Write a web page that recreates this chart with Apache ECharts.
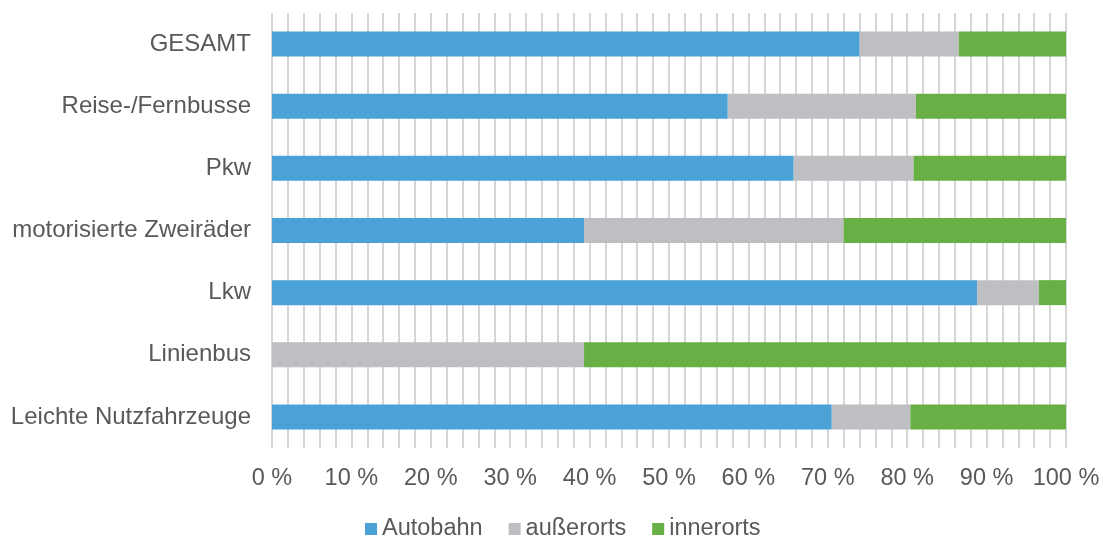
<!DOCTYPE html>
<html>
<head>
    <meta charset="UTF-8">
    <title>Anteile nach Straßenart</title>
    <script src="https://cdn.jsdelivr.net/npm/echarts@6/dist/echarts.min.js"></script>
    <style>
        body { margin: 0; background: #fff; }
        #main { width: 1103px; height: 538px; }
    </style>
</head>
<body>
    <div id="main"></div>
    <script>
        var categories = ['GESAMT', 'Reise-/Fernbusse', 'Pkw', 'motorisierte Zweiräder', 'Lkw', 'Linienbus', 'Leichte Nutzfahrzeuge'];
        var autobahn   = [74.0, 57.4, 65.7, 39.3, 88.8, 0,    70.5];
        var ausserorts = [12.5, 23.7, 15.1, 32.7, 7.8,  39.3, 9.9];
        var innerorts  = [13.5, 18.9, 19.2, 28.0, 3.4,  60.7, 19.6];
        var seriesNames = ['Autobahn', 'außerorts', 'innerorts'];

        var chart = echarts.init(document.getElementById('main'));
        var font = 'Liberation Sans, Arial, sans-serif';
        var textColor = '#595959';
        var gridLine = { show: true, lineStyle: { color: '#d6d6d6', width: 2 } };

        function bar(name, data, color) {
            return {
                name: name,
                type: 'bar',
                stack: 'total',
                barWidth: 25,
                data: data,
                itemStyle: { color: color },
                emphasis: { disabled: true }
            };
        }

        var option = {
            animation: false,
            textStyle: { fontFamily: font },
            grid: { left: 272, right: 37, top: 13, bottom: 90, containLabel: false },
            legend: {
                data: seriesNames,
                bottom: -3,
                left: 365,
                padding: 0,
                icon: 'rect',
                itemWidth: 12,
                itemHeight: 12,
                itemGap: 26,
                textStyle: { color: textColor, fontSize: 23.5, fontFamily: font }
            },
            xAxis: {
                type: 'value',
                min: 0,
                max: 100,
                interval: 10,
                axisLine: { show: false },
                axisTick: { show: false },
                splitLine: gridLine,
                minorTick: { show: false, splitNumber: 5 },
                minorSplitLine: gridLine,
                axisLabel: {
                    color: textColor,
                    fontSize: 23.5,
                    margin: 19,
                    formatter: function (v) { return v + ' %'; }
                }
            },
            yAxis: {
                type: 'category',
                data: categories,
                inverse: true,
                axisLine: { show: false },
                axisTick: { show: false },
                splitLine: { show: false },
                axisLabel: { color: textColor, fontSize: 24, margin: 21 }
            },
            series: [
                bar(seriesNames[0], autobahn, '#4aa2d6'),
                bar(seriesNames[1], ausserorts, '#bebfc2'),
                bar(seriesNames[2], innerorts, '#68b046')
            ]
        };

        chart.setOption(option);
    </script>
</body>
</html>
